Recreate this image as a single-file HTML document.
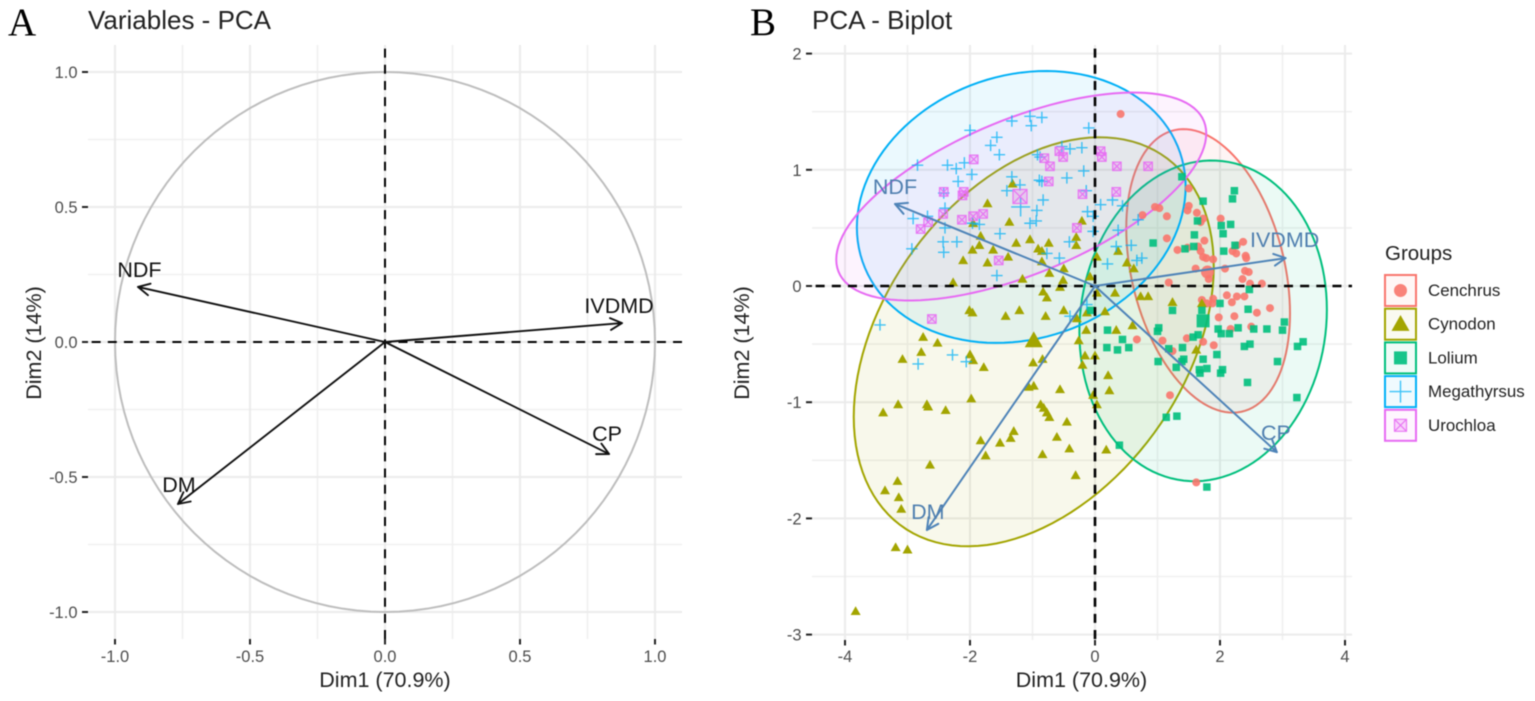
<!DOCTYPE html>
<html lang="en">
<head>
<meta charset="utf-8">
<title>PCA variables and biplot</title>
<style>
  html, body { margin: 0; padding: 0; background: #fff; width: 1535px; height: 701px; overflow: hidden; }
  svg { display: block; font-family: "Liberation Sans", sans-serif; filter: blur(0.45px); }
</style>
</head>
<body>
<svg id="figure" width="1535" height="701" viewBox="0 0 1535 701" xmlns="http://www.w3.org/2000/svg">
  <rect x="0" y="0" width="1535" height="701" fill="#fff"/>
  <text x="8" y="35" font-family="'Liberation Serif', serif" font-size="39" fill="#000">A</text>
  <text x="750" y="35" font-family="'Liberation Serif', serif" font-size="39" fill="#000">B</text>
  <text x="88" y="29" font-size="26" fill="#222">Variables - PCA</text>
  <text x="812" y="29" font-size="26" fill="#222">PCA - Biplot</text>
  <text x="385" y="687" text-anchor="middle" font-size="21.5" fill="#222">Dim1 (70.9%)</text>
  <text transform="translate(41 343) rotate(-90)" text-anchor="middle" font-size="21.5" fill="#222">Dim2 (14%)</text>
  <text x="1081.5" y="687" text-anchor="middle" font-size="21.5" fill="#222">Dim1 (70.9%)</text>
  <text transform="translate(749 343) rotate(-90)" text-anchor="middle" font-size="21.5" fill="#222">Dim2 (14%)</text>
  <g id="panelA"></g>
  <g id="panelB"></g>
  <g id="legend">
    <text x="1385" y="260" font-size="20.5" fill="#222">Groups</text>
  </g>
</svg>
<script>
// ---------- Panel A data ----------
const variableNames = ["NDF", "IVDMD", "CP", "DM"];
const loadingsDim1 = [-0.915, 0.878, 0.83, -0.767];
const loadingsDim2 = [0.204, 0.07, -0.415, -0.6];
const panelATicks = [-1, -0.5, 0, 0.5, 1];
const panelAMinorTicks = [-0.75, -0.25, 0.25, 0.75];
const panelATickLabels = ["-1.0", "-0.5", "0.0", "0.5", "1.0"];

// ---------- Panel B data ----------
const biplotDim1 = [-3.2, 3.05, 2.91, -2.69];
const biplotDim2 = [0.706, 0.24, -1.43, -2.1];
const biplotXTicks = [-4, -2, 0, 2, 4];
const biplotXMinorTicks = [-3, -1, 1, 3];
const biplotYTicks = [-3, -2, -1, 0, 1, 2];
const biplotYMinorTicks = [-2.5, -1.5, -0.5, 0.5, 1.5];

const groupNames = ["Cenchrus", "Cynodon", "Lolium", "Megathyrsus", "Urochloa"];
const ellipseCentreX = [1.81, -0.98, 1.73, -1.18, -1.18];
const ellipseCentreY = [0.13, -0.48, -0.30, 0.68, 0.77];
const ellipseRadiusX = [1.31, 2.88, 1.98, 2.63, 2.96];
const ellipseRadiusY = [1.22, 1.76, 1.38, 1.17, 0.895];
const ellipseCorrelation = [-0.3, 0.367, 0.07, 0.15, 0.606];
const groupMeans = [[1.80, 0.12], [-0.98, -0.47], [1.73, -0.30], [-1.19, 0.68], [-1.20, 0.77]];

const cenchrusPoints = [[0.41,1.48],[1.50,0.84],[0.96,0.68],[1.03,0.67],[0.76,0.61],[1.15,0.60],[1.50,0.69],[1.48,0.65],[1.63,0.63],[1.73,0.58],[1.69,0.55],[2.01,0.58],[1.15,0.41],[1.75,0.39],[1.32,0.31],[1.48,0.33],[1.65,0.34],[1.69,0.30],[1.73,0.25],[1.78,0.24],[1.89,0.23],[2.37,0.38],[2.27,0.35],[2.20,0.30],[2.26,0.28],[2.41,0.26],[2.42,0.24],[2.08,0.15],[1.61,0.15],[2.40,0.13],[2.46,0.12],[2.36,0.06],[1.82,0.06],[1.18,0.03],[2.48,0.02],[2.67,0.02],[2.11,-0.08],[2.27,-0.09],[2.39,-0.09],[2.19,-0.14],[1.71,-0.12],[1.89,-0.11],[1.88,-0.15],[1.79,-0.15],[2.80,-0.19],[2.59,-0.23],[1.98,-0.27],[2.23,-0.26],[2.50,-0.35],[2.17,-0.37],[0.67,-0.46],[1.08,-0.47],[1.47,-0.45],[1.73,-0.48],[1.90,-0.51],[1.24,-0.56],[1.20,-0.94],[1.62,-1.69]];

const cynodonPoints = [[-1.32,0.88],[-1.72,0.71],[-1.37,0.55],[-1.95,0.54],[-1.83,0.43],[-1.85,0.35],[-1.96,0.31],[-1.63,0.31],[-1.26,0.37],[-1.04,0.40],[-0.74,0.37],[-0.91,0.32],[-0.85,0.30],[-0.30,0.42],[-0.21,0.56],[-0.30,0.35],[-2.11,0.22],[-1.72,0.20],[-1.39,0.25],[-0.85,0.21],[-0.50,0.15],[-0.73,0.11],[-1.16,0.06],[-2.27,0.03],[-0.51,0.05],[-0.56,-0.01],[-0.08,0.08],[0.03,0.25],[0.37,0.30],[-0.83,-0.05],[-0.77,-0.10],[0.03,-0.06],[0.32,-0.06],[0.51,0.20],[0.62,0.15],[0.73,-0.09],[0.85,-0.09],[1.24,-0.14],[1.71,-0.15],[0.60,-0.34],[0.34,-0.38],[0.16,-0.22],[1.62,-0.55],[-2.01,-0.21],[-1.96,-0.23],[-1.43,-0.26],[-1.21,-0.21],[-0.79,-0.26],[-0.50,-0.21],[-0.13,-0.23],[-0.29,-0.28],[-0.14,-0.38],[-2.75,-0.44],[-2.52,-0.49],[-0.26,-0.47],[-2.78,-0.57],[-2.00,-0.59],[-1.95,-0.64],[-3.08,-0.63],[-1.78,-0.70],[-0.99,-0.66],[-0.84,-0.63],[-0.16,-0.60],[0.00,-0.60],[-0.20,-0.68],[-1.06,-0.87],[-0.98,-0.86],[-0.56,-0.89],[-0.03,-0.94],[0.03,-1.02],[-3.15,-1.02],[-3.39,-1.09],[-2.69,-1.02],[-2.67,-1.04],[-2.39,-1.07],[-1.98,-0.97],[-0.87,-1.02],[-0.82,-1.05],[-0.77,-1.09],[-0.73,-1.13],[-0.45,-1.17],[-1.83,-1.33],[-1.52,-1.35],[-1.35,-1.31],[-1.30,-1.25],[-0.61,-1.30],[-1.75,-1.46],[-0.84,-1.45],[-0.41,-1.40],[-2.64,-1.54],[-0.31,-1.63],[-3.16,-1.68],[-3.36,-1.76],[-3.14,-1.82],[-3.10,-1.92],[-3.19,-2.25],[-3.00,-2.27],[-3.83,-2.80],[0.21,-0.77],[0.23,-0.90],[0.18,-1.41]];

const loliumPoints = [[1.39,0.94],[2.23,0.82],[2.20,0.75],[1.73,0.73],[1.64,0.56],[2.02,0.52],[2.17,0.53],[2.05,0.45],[1.59,0.44],[0.93,0.37],[1.44,0.32],[1.58,0.34],[2.24,0.35],[2.06,0.30],[2.47,-0.03],[2.00,-0.15],[1.24,-0.21],[2.45,-0.20],[1.71,-0.21],[3.03,-0.31],[3.00,-0.38],[0.20,-0.38],[1.97,-0.37],[2.29,-0.36],[2.54,-0.37],[2.75,-0.37],[2.02,-0.41],[2.15,-0.41],[1.02,-0.36],[1.00,-0.39],[1.57,-0.44],[1.65,-0.42],[0.44,-0.46],[0.19,-0.53],[0.36,-0.55],[0.54,-0.53],[1.40,-0.53],[1.18,-0.54],[2.39,-0.52],[2.48,-0.50],[3.24,-0.52],[3.33,-0.48],[1.95,-0.59],[1.42,-0.63],[1.01,-0.65],[1.39,-0.65],[1.30,-0.70],[1.73,-0.63],[1.79,-0.71],[1.67,-0.72],[1.68,-0.75],[2.04,-0.72],[2.01,-0.75],[2.44,-0.83],[2.92,-0.65],[3.23,-0.96],[1.14,-1.13],[1.31,-1.12],[0.39,-1.37],[1.79,-1.73],[-0.07,-0.21]];

const megathyrsusPoints = [[-1.33,1.42],[-1.04,1.46],[-0.85,1.45],[-1.02,1.38],[-2.00,1.34],[-1.57,1.28],[-1.67,1.21],[-1.53,1.13],[-0.10,1.36],[-2.84,1.04],[-2.36,1.04],[-2.22,1.01],[-2.09,1.06],[-1.97,0.96],[-2.19,0.90],[-1.33,0.94],[-1.41,0.82],[-1.20,0.87],[-0.89,0.91],[-0.85,0.90],[-0.45,0.93],[-0.18,0.99],[-0.92,1.13],[-0.88,1.11],[-0.21,1.19],[-0.40,1.18],[-0.53,1.20],[-2.42,0.80],[-2.40,0.67],[-2.91,0.58],[-2.68,0.60],[-2.40,0.50],[-1.96,0.54],[-1.85,0.53],[-1.52,0.45],[-1.04,0.54],[-0.94,0.56],[-0.83,0.74],[-0.93,0.65],[-0.14,0.82],[0.09,0.70],[0.28,0.74],[-0.12,0.64],[-0.03,0.60],[-0.03,0.47],[0.37,0.48],[-0.41,0.38],[0.34,0.34],[-0.77,0.28],[-0.57,0.24],[0.20,0.19],[-2.43,0.38],[-2.21,0.38],[-2.93,0.32],[-2.42,0.29],[-1.57,0.09],[0.44,0.69],[0.69,0.57],[0.58,0.35],[0.67,0.22],[0.75,0.24],[-3.44,-0.335],[-2.28,-0.593],[-2.83,-0.671],[-2.06,-0.651],[-0.40,-0.26],[-0.13,-0.16]];

const urochloaPoints = [[-1.94,1.09],[-2.42,0.81],[-2.10,0.81],[-2.12,0.78],[-2.43,0.62],[-2.67,0.55],[-2.79,0.49],[-2.13,0.57],[-1.95,0.60],[-1.79,0.62],[-0.81,1.10],[-0.57,1.16],[-0.51,1.11],[-0.72,1.03],[-0.74,0.90],[-0.20,0.79],[-0.29,0.50],[-1.54,0.22],[0.09,1.16],[0.11,1.11],[0.35,1.03],[0.34,0.81],[0.85,1.03],[-2.61,-0.284]];

const groupPoints = [cenchrusPoints, cynodonPoints, loliumPoints, megathyrsusPoints, urochloaPoints];

// ---------- Styles and scales ----------
const groupColors = ["#F8766D", "#A3A500", "#00BF7D", "#00B0F6", "#E76BF3"];
const SVG_NS = "http://www.w3.org/2000/svg";
const panelA = document.getElementById("panelA");
const panelB = document.getElementById("panelB");
const legend = document.getElementById("legend");

function mk(tag, attrs, parent) {
  const el = document.createElementNS(SVG_NS, tag);
  for (const k in attrs) el.setAttribute(k, attrs[k]);
  parent.appendChild(el);
  return el;
}
const ax = v => 385 + v * 270;
const ay = v => 342 - v * 270;
const bx = v => 1095 + v * 62.5;
const by = v => 286 - v * 116.2;

const A_BOX = { l: 88, r: 682, t: 45, b: 639 };
const B_BOX = { l: 812, r: 1352, t: 45, b: 640 };

function drawGridAndTicks(parent, box, sx, sy, xMajor, xMinor, yMajor, yMinor, xLabels, yLabels, prefix) {
  xMinor.forEach(v => {
    const el = mk("line", { x1: sx(v), x2: sx(v), y1: box.t, y2: box.b, stroke: "#F0F0F0", "stroke-width": 1.6 }, parent);
    
    
  });
  yMinor.forEach(v => {
    const el = mk("line", { x1: box.l, x2: box.r, y1: sy(v), y2: sy(v), stroke: "#F0F0F0", "stroke-width": 1.6 }, parent);
    
    
  });
  xMajor.forEach((v, i) => {
    const grid = mk("line", { x1: sx(v), x2: sx(v), y1: box.t, y2: box.b, stroke: "#EBEBEB", "stroke-width": 2 }, parent);
    
    
    const tick = mk("line", { x1: sx(v), x2: sx(v), y1: box.b, y2: box.b + 5.5, stroke: "#222", "stroke-width": 2 }, parent);
    
    
    const label = mk("text", { x: sx(v), y: 662, "text-anchor": "middle", "font-size": 16.5, fill: "#4D4D4D" }, parent);
    
    
    label.textContent = xLabels[i];
  });
  yMajor.forEach((v, i) => {
    const grid = mk("line", { x1: box.l, x2: box.r, y1: sy(v), y2: sy(v), stroke: "#EBEBEB", "stroke-width": 2 }, parent);
    
    
    const tick = mk("line", { x1: box.l - 6, x2: box.l, y1: sy(v), y2: sy(v), stroke: "#222", "stroke-width": 2 }, parent);
    
    
    const label = mk("text", { x: box.l - 10.5, y: sy(v) + 6, "text-anchor": "end", "font-size": 16.5, fill: "#4D4D4D" }, parent);
    
    
    label.textContent = yLabels[i];
  });
}

function drawZeroLines(parent, box, sx, sy, width, prefix) {
  const dash = { stroke: "#000", "stroke-width": width, "stroke-dasharray": "9 7.15", "stroke-dashoffset": 12.5 };
  const v = mk("line", Object.assign({ x1: sx(0), x2: sx(0), y1: box.t, y2: box.b }, dash), parent);
  
  
  const h = mk("line", Object.assign({ x1: box.l, x2: box.r, y1: sy(0), y2: sy(0) }, dash), parent);
  
  
}

function drawArrow(parent, x0, y0, x1, y1, color, width, name) {
  const ang = Math.atan2(y1 - y0, x1 - x0);
  const len = 13, spread = 0.47;
  const hx1 = x1 - len * Math.cos(ang - spread), hy1 = y1 - len * Math.sin(ang - spread);
  const hx2 = x1 - len * Math.cos(ang + spread), hy2 = y1 - len * Math.sin(ang + spread);
  const d = `M${x0} ${y0}L${x1} ${y1}M${hx1} ${hy1}L${x1} ${y1}L${hx2} ${hy2}`;
  const el = mk("path", { d: d, fill: "none", stroke: color, "stroke-width": width, "stroke-linecap": "round", "stroke-linejoin": "round" }, parent);
  
  
}

// Marker drawing; shape index follows the group order
function drawMarker(parent, shape, cx, cy, size, color, name) {
  let el;
  if (shape === 0) {
    el = mk("circle", { cx: cx, cy: cy, r: size / 2, fill: color, "fill-opacity": 0.9 }, parent);
  } else if (shape === 1) {
    const h = size * 0.88, w = size;
    el = mk("path", { d: `M${cx} ${cy - h * 0.58}L${cx + w / 2} ${cy + h * 0.42}L${cx - w / 2} ${cy + h * 0.42}Z`, fill: color }, parent);
  } else if (shape === 2) {
    el = mk("rect", { x: cx - size / 2, y: cy - size / 2, width: size, height: size, fill: color, "fill-opacity": 0.9 }, parent);
  } else if (shape === 3) {
    const r = size / 2;
    el = mk("path", { d: `M${cx - r} ${cy}H${cx + r}M${cx} ${cy - r}V${cy + r}`, fill: "none", stroke: color, "stroke-width": 1.4, "stroke-opacity": 0.75 }, parent);
  } else {
    const r = size / 2;
    el = mk("path", { d: `M${cx - r} ${cy - r}H${cx + r}V${cy + r}H${cx - r}ZM${cx - r} ${cy - r}L${cx + r} ${cy + r}M${cx + r} ${cy - r}L${cx - r} ${cy + r}`, fill: color, "fill-opacity": 0.25, stroke: color, "stroke-width": 1.2, "stroke-opacity": 0.9 }, parent);
  }
  
  
}

// ---------- Panel A ----------
drawGridAndTicks(panelA, A_BOX, ax, ay, panelATicks, panelAMinorTicks, panelATicks, panelAMinorTicks, panelATickLabels, panelATickLabels, "panel-a");

const circlePts = [];
for (let t = 0; t <= 120; t++) {
  const th = t / 120 * 2 * Math.PI;
  circlePts.push(ax(Math.cos(th)) + "," + ay(Math.sin(th)));
}
const corCircle = mk("polygon", { points: circlePts.join(" "), fill: "none", stroke: "#BEBEBE", "stroke-width": 2 }, panelA);



drawZeroLines(panelA, A_BOX, ax, ay, 2, "panel-a");

const panelALabelDx = [1.5, -3, -2, 1];
const panelALabelDy = [-10, -10, -13, -12];
variableNames.forEach((name, i) => {
  const tipX = ax(loadingsDim1[i]), tipY = ay(loadingsDim2[i]);
  drawArrow(panelA, ax(0), ay(0), tipX, tipY, "#111", 1.9, "panel-a-arrow-" + name.toLowerCase());
  const label = mk("text", { x: tipX + panelALabelDx[i], y: tipY + panelALabelDy[i], "text-anchor": "middle", "font-size": 21.5, fill: "#111" }, panelA);
  
  
  label.textContent = name;
});

// ---------- Panel B ----------
drawGridAndTicks(panelB, B_BOX, bx, by, biplotXTicks, biplotXMinorTicks, biplotYTicks, biplotYMinorTicks, biplotXTicks.map(String), biplotYTicks.map(String), "panel-b");

groupNames.forEach((group, g) => {
  const pts = [];
  const s = Math.sqrt(1 - ellipseCorrelation[g] * ellipseCorrelation[g]);
  for (let t = 0; t < 120; t++) {
    const th = t / 120 * 2 * Math.PI;
    const ex = ellipseCentreX[g] + ellipseRadiusX[g] * Math.cos(th);
    const ey = ellipseCentreY[g] + ellipseRadiusY[g] * (ellipseCorrelation[g] * Math.cos(th) + s * Math.sin(th));
    pts.push(bx(ex) + "," + by(ey));
  }
  const el = mk("polygon", { points: pts.join(" "), fill: groupColors[g], "fill-opacity": 0.08, stroke: groupColors[g], "stroke-width": 2 }, panelB);
  
  
});

const pointSizes = [8, 10, 7.5, 11.5, 8.5];
const meanSizes = [13, 18, 13, 19, 14];
groupNames.forEach((group, g) => {
  groupPoints[g].forEach(p => {
    drawMarker(panelB, g, bx(p[0]), by(p[1]), pointSizes[g], groupColors[g], "point-" + group.toLowerCase());
  });
  drawMarker(panelB, g, bx(groupMeans[g][0]), by(groupMeans[g][1]), meanSizes[g], groupColors[g], "mean-" + group.toLowerCase());
});

drawZeroLines(panelB, B_BOX, bx, by, 2.6, "panel-b");

const panelBLabelDx = [0, -1, -1, 1];
const panelBLabelDy = [-10, -11, -12, -11];
variableNames.forEach((name, i) => {
  const tipX = bx(biplotDim1[i]), tipY = by(biplotDim2[i]);
  drawArrow(panelB, bx(0), by(0), tipX, tipY, "#4F84B8", 2, "panel-b-arrow-" + name.toLowerCase());
  const label = mk("text", { x: tipX + panelBLabelDx[i], y: tipY + panelBLabelDy[i], "text-anchor": "middle", "font-size": 21.5, fill: "#4F7FAF" }, panelB);
  
  
  label.textContent = name;
});

// ---------- Legend ----------
const legendMarkerSizes = [13, 18, 13, 22, 12];
groupNames.forEach((group, g) => {
  const top = 275 + g * 33.7;
  const key = mk("rect", { x: 1385, y: top, width: 31, height: 31, fill: groupColors[g], "fill-opacity": 0.06, stroke: groupColors[g], "stroke-width": 2 }, legend);
  
  
  drawMarker(legend, g, 1400.5, top + 15.5, legendMarkerSizes[g], groupColors[g], "legend-marker-" + group.toLowerCase());
  const label = mk("text", { x: 1428, y: top + 21, "font-size": 16.9, fill: "#222" }, legend);
  
  
  label.textContent = group;
});
</script>
</body>
</html>
